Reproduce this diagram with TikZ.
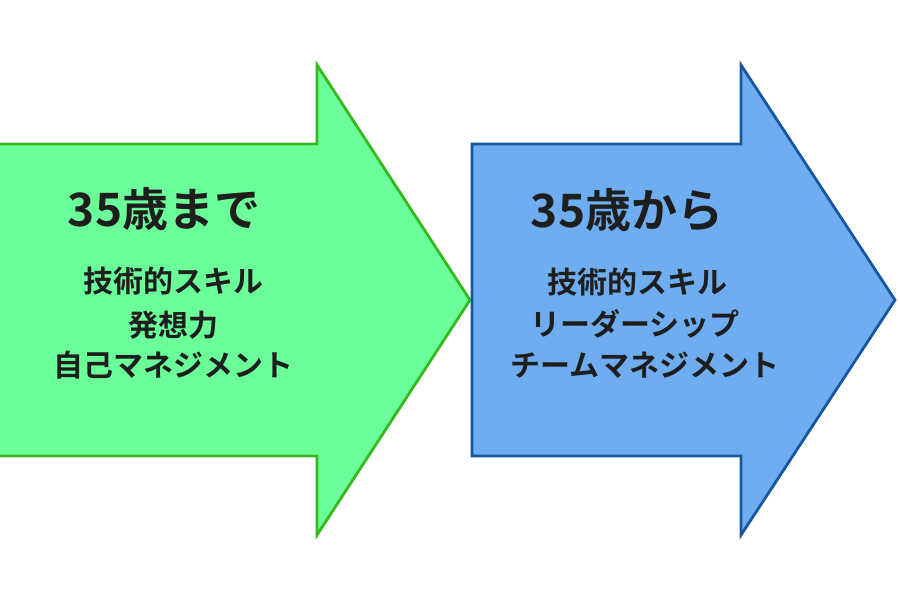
\documentclass[tikz,border=0pt]{standalone}
\usepackage{fontspec}
\newfontfamily\jpb{Noto Sans CJK JP Bold}
\definecolor{gfill}{RGB}{107,255,154}
\definecolor{gline}{RGB}{52,185,30}
\definecolor{bfill}{RGB}{110,174,240}
\definecolor{bline}{RGB}{22,88,160}
\definecolor{txt}{RGB}{30,30,30}
\tikzset{
  ttl/.style={font=\jpb\fontsize{46}{46}\selectfont, text=txt, inner sep=0pt},
  itm/.style={font=\jpb\fontsize{30}{30}\selectfont, text=txt, inner sep=0pt},
  garrow/.style={fill=gfill, draw=gline, line width=2.8pt, line join=miter},
  barrow/.style={fill=bfill, draw=bline, line width=2.8pt, line join=miter}
}
\begin{document}
\begin{tikzpicture}[x=1pt,y=1pt]
\useasboundingbox (0,0) rectangle (900,600);
% green arrow (y = 600 - pixel y)
\draw[garrow] (-10,456) -- (317,456) -- (317,535) -- (470,300) -- (317,65) -- (317,144) -- (-10,144) -- cycle;
% blue arrow
\draw[barrow] (472,456) -- (741,456) -- (741,535) -- (895,300) -- (741,65) -- (741,144) -- (472,144) -- cycle;
% left texts
\node[ttl] (t1) at (164,391) {35歳まで};
\node[itm] (a1) at (173,319) {技術的スキル};
\node[itm] (a2) at (173,275) {発想力};
\node[itm] (a3) at (173,235) {自己マネジメント};
% right texts
\node[ttl] (t2) at (627,390) {35歳から};
\node[itm] (b1) at (637,318) {技術的スキル};
\node[itm] (b2) at (635,276) {リーダーシップ};
\node[itm] (b3) at (645,235) {チームマネジメント};
\end{tikzpicture}
\end{document}
